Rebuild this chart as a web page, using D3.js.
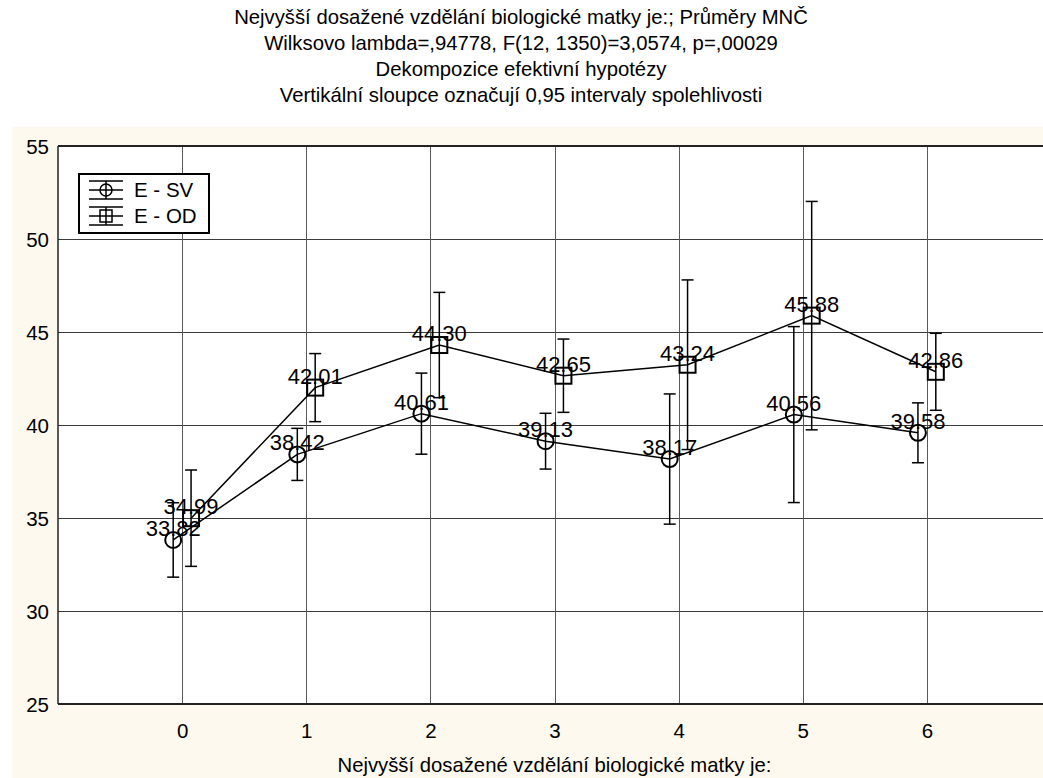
<!DOCTYPE html>
<html><head><meta charset="utf-8">
<script src="https://cdn.jsdelivr.net/npm/d3@7"></script>
<style>
html,body{margin:0;padding:0;background:#fff;overflow:hidden;}
text{font-family:"Liberation Sans",Arial,sans-serif;}
</style></head>
<body>
<script>
const categories = [0,1,2,3,4,5,6];
const seriesNames = ["E - SV","E - OD"];
const svMeans = [33.82,38.42,40.61,39.13,38.17,40.56,39.58];
const svHalf  = [2.0,1.4,2.18,1.5,3.5,4.73,1.61];
const odMeans = [34.99,42.01,44.30,42.65,43.24,45.88,42.86];
const odHalf  = [2.59,1.83,2.83,1.97,4.56,6.14,2.07];
const yTicks = [25,30,35,40,45,50,55];
const titleLines = [
 "Nejvyšší dosažené vzdělání biologické matky je:; Průměry MNČ",
 "Wilksovo lambda=,94778, F(12, 1350)=3,0574, p=,00029",
 "Dekompozice efektivní hypotézy",
 "Vertikální sloupce označují 0,95 intervaly spolehlivosti"
];
const xTitle = "Nejvyšší dosažené vzdělání biologické matky je:";

const W=1043,H=778;
const FF="Liberation Sans, Arial, sans-serif";
const svg=d3.select("body").append("svg").attr("width",W).attr("height",H);
svg.append("rect").attr("width",W).attr("height",H).attr("fill","#fff");
svg.append("rect").attr("x",12).attr("y",127).attr("width",W-12).attr("height",H-127).attr("fill","#fdf9ee");

const L=58,T=146,R=1051,B=704;
const x=d3.scaleLinear().domain([-1,7]).range([L,R]);
const y=d3.scaleLinear().domain([25,55]).range([B,T]);

svg.append("rect").attr("x",L).attr("y",T).attr("width",R-L).attr("height",B-T).attr("fill","#fff");

// grid
const g=svg.append("g");
g.selectAll(".hg").data(yTicks).enter().append("line")
 .attr("x1",L).attr("x2",R).attr("y1",d=>y(d)).attr("y2",d=>y(d))
 .attr("stroke","#3a3a3a").attr("stroke-width",1).attr("shape-rendering","crispEdges");
g.selectAll(".vg").data(categories).enter().append("line")
 .attr("y1",T).attr("y2",B).attr("x1",d=>Math.round(x(d))+0.5).attr("x2",d=>Math.round(x(d))+0.5)
 .attr("stroke","#5a5a5a").attr("stroke-width",1);
// frame
svg.append("line").attr("x1",L).attr("x2",R).attr("y1",T).attr("y2",T).attr("stroke","#222").attr("stroke-width",2);
svg.append("line").attr("x1",L).attr("x2",R).attr("y1",B).attr("y2",B).attr("stroke","#222").attr("stroke-width",2);
svg.append("line").attr("x1",L).attr("x2",L).attr("y1",T).attr("y2",B).attr("stroke","#222").attr("stroke-width",1.5);

// axes labels via d3 axes
const ya=svg.append("g").attr("transform",`translate(${L},0)`).call(d3.axisLeft(y).tickValues(yTicks).tickSize(0).tickPadding(9));
ya.select(".domain").remove();
ya.selectAll("text").attr("font-size",20.5).attr("fill","#000").attr("font-family",FF).attr("dy","0.35em");
const xa=svg.append("g").attr("transform",`translate(0,${B})`).call(d3.axisBottom(x).tickValues(categories).tickSize(0).tickPadding(19));
xa.select(".domain").remove();
xa.selectAll("text").attr("font-size",20.5).attr("fill","#000").attr("font-family",FF);

svg.append("text").attr("x",x(3)).attr("y",772).attr("text-anchor","middle").attr("font-size",20.3).text(xTitle);
svg.selectAll(".tl").data(titleLines).enter().append("text")
 .attr("x",521).attr("y",(d,i)=>24+i*26).attr("text-anchor","middle").attr("font-size",20.3).text(d=>d);

const off=0.072;
const series=[
 {name:seriesNames[0],m:svMeans,h:svHalf,dx:-off,shape:"circle"},
 {name:seriesNames[1],m:odMeans,h:odHalf,dx:off,shape:"square"}
];
const line=d3.line().x(d=>x(d[0])).y(d=>y(d[1]));
series.forEach(s=>{
 const pts=categories.map((c,i)=>[c+s.dx,s.m[i],s.h[i]]);
 const sg=svg.append("g");
 sg.append("path").attr("d",line(pts)).attr("fill","none").attr("stroke","#000").attr("stroke-width",1.5);
 pts.forEach(p=>{
  const cx=x(p[0]);
  sg.append("line").attr("x1",cx).attr("x2",cx).attr("y1",y(p[1]+p[2])).attr("y2",y(p[1]-p[2])).attr("stroke","#000").attr("stroke-width",1.5);
  [p[1]+p[2],p[1]-p[2]].forEach(v=>sg.append("line").attr("x1",cx-6).attr("x2",cx+6).attr("y1",y(v)).attr("y2",y(v)).attr("stroke","#000").attr("stroke-width",1.5));
  if(s.shape==="circle") sg.append("circle").attr("cx",cx).attr("cy",y(p[1])).attr("r",8).attr("fill","none").attr("stroke","#000").attr("stroke-width",2);
  else sg.append("rect").attr("x",cx-8).attr("y",y(p[1])-8).attr("width",16).attr("height",16).attr("fill","none").attr("stroke","#000").attr("stroke-width",2);
 });
 pts.forEach(p=>{
  sg.append("text").attr("x",x(p[0])).attr("y",y(p[1])-4).attr("text-anchor","middle").attr("font-size",22).text(p[1].toFixed(2));
 });
});

// legend
const lg=svg.append("g");
lg.append("rect").attr("x",79).attr("y",174).attr("width",130).attr("height",59).attr("fill","#fff").attr("stroke","#000").attr("stroke-width",2);
series.forEach((s,i)=>{
 const cy=190+i*26, cx=106;
 [cy-9,cy,cy+9].forEach(yy=>lg.append("line").attr("x1",89).attr("x2",123).attr("y1",yy).attr("y2",yy).attr("stroke","#000").attr("stroke-width",1.5));
 lg.append("line").attr("x1",cx).attr("x2",cx).attr("y1",cy-9).attr("y2",cy+9).attr("stroke","#000").attr("stroke-width",1.5);
 if(s.shape==="circle") lg.append("circle").attr("cx",cx).attr("cy",cy).attr("r",6).attr("fill","none").attr("stroke","#000").attr("stroke-width",1.5);
 else lg.append("rect").attr("x",cx-6).attr("y",cy-6).attr("width",12).attr("height",12).attr("fill","none").attr("stroke","#000").attr("stroke-width",1.5);
 lg.append("text").attr("x",134).attr("y",cy+7).attr("font-size",20.5).text(s.name);
});
</script>
</body></html>
